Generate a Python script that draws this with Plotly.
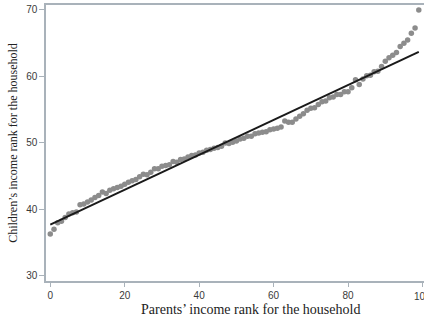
import plotly.graph_objects as go

parent_rank = list(range(100))
child_rank = [
    36.3, 37.0, 38.0, 38.2, 38.8, 39.3, 39.5, 39.6, 40.7, 40.8,
    41.1, 41.4, 41.8, 42.1, 42.6, 42.4, 42.9, 43.1, 43.3, 43.5,
    43.8, 44.1, 44.3, 44.5, 44.9, 45.3, 45.2, 45.6, 46.1, 46.1,
    46.5, 46.6, 46.7, 47.2, 47.1, 47.5, 47.6, 47.9, 48.1, 48.2,
    48.5, 48.6, 48.9, 49.0, 49.2, 49.3, 49.5, 50.0, 49.9, 50.1,
    50.3, 50.6, 50.7, 51.0, 51.0, 51.4, 51.5, 51.6, 51.7, 52.0,
    52.1, 52.2, 52.4, 53.3, 53.1, 53.1, 53.6, 54.0, 54.4, 54.9,
    55.2, 55.3, 55.8, 56.2, 56.3, 56.8, 56.9, 57.3, 57.3, 57.7,
    57.7, 58.3, 59.5, 58.8, 59.6, 60.1, 60.2, 60.7, 60.8, 61.5,
    62.3, 62.8, 63.2, 63.6, 64.5, 65.0, 65.5, 66.5, 67.3, 70.0,
]
fit_x = [0, 99]
fit_y = [37.7, 63.7]

x_ticks = [0, 20, 40, 60, 80]
x_edge_tick = 100
y_ticks = [30, 40, 50, 60, 70]

axis_col = "#a9b2ba"
tick_font = dict(family="Liberation Sans, Arial, sans-serif", size=10, color="#3a3a3a")
title_font_x = dict(family="Liberation Serif, Times New Roman, serif", size=14, color="#222222")
title_font_y = dict(family="Liberation Serif, Times New Roman, serif", size=12, color="#222222")

fig = go.Figure()
fig.add_trace(go.Scatter(
    x=parent_rank, y=child_rank, mode="markers",
    marker=dict(color="#8c8c8c", size=5.5, line=dict(width=0)),
    showlegend=False,
))
fig.add_trace(go.Scatter(
    x=fit_x, y=fit_y, mode="lines",
    line=dict(color="#1a1a1a", width=2),
    showlegend=False,
))

fig.update_layout(
    width=424, height=320,
    margin=dict(l=46, r=0, t=5, b=39),
    paper_bgcolor="white", plot_bgcolor="white",
    xaxis=dict(
        range=[-1.15, 100.4], tickvals=x_ticks + [x_edge_tick],
        ticktext=[str(t) for t in x_ticks] + [""],
        showgrid=False, zeroline=False,
        showline=True, linecolor=axis_col, linewidth=1.5, mirror=True,
        ticks="outside", ticklen=4, tickcolor=axis_col, tickwidth=1,
        tickfont=tick_font,
    ),
    yaxis=dict(
        range=[29.23, 70.75], tickvals=y_ticks, ticktext=[str(t) for t in y_ticks],
        showgrid=False, zeroline=False,
        showline=True, linecolor=axis_col, linewidth=1.5,
        ticks="outside", ticklen=5, tickcolor=axis_col, tickwidth=1,
        tickfont=tick_font,
    ),
    annotations=[
        dict(text=str(x_edge_tick), xref="x", yref="paper",
             x=x_edge_tick, y=-0.028, xanchor="center", yanchor="top", showarrow=False,
             font=tick_font),
        dict(text="Parents’ income rank for the household", xref="paper", yref="paper",
             x=0.542, y=-0.068, xanchor="center", yanchor="top", showarrow=False,
             font=title_font_x),
        dict(text="Children’s income rank for the household", xref="paper", yref="paper",
             x=-0.064, y=0.5, xanchor="right", yanchor="middle", textangle=-90,
             showarrow=False, font=title_font_y),
    ],
)

fig.write_html(
    "out.html",
    config={"displayModeBar": False},
    post_script="document.body.style.margin='0';document.body.style.overflow='hidden';",
)
